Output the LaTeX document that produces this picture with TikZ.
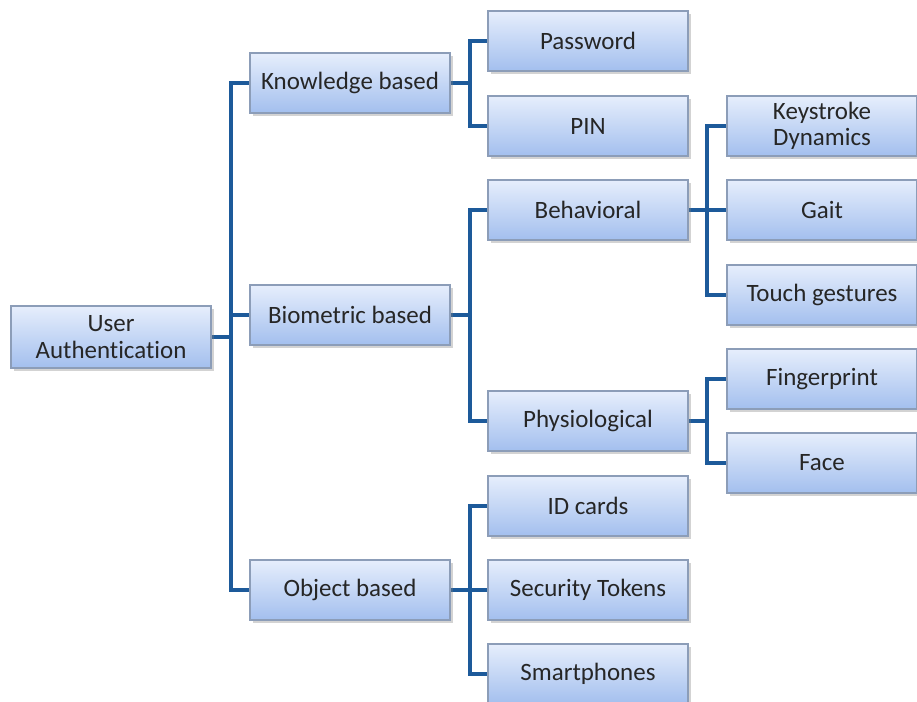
\documentclass[tikz,border=0pt]{standalone}
\usepackage{fontspec}
\setmainfont[Ligatures=NoCommon]{Carlito}
\usetikzlibrary{shadows}
\pgfdeclarelayer{bg}
\pgfsetlayers{bg,main}
\definecolor{linkblue}{HTML}{1D5A9A}
\definecolor{boxtop}{HTML}{E6EEFC}
\definecolor{boxbot}{HTML}{A3BFEE}
\definecolor{boxrim}{HTML}{8C9DB8}
\tikzset{
    box/.style={draw=boxrim, line width=0.6pt, top color=boxtop, bottom color=boxbot,
        minimum width=4cm, minimum height=1.2cm, align=center, inner sep=1pt,
        font=\fontsize{14.2}{15}\selectfont, text=black!85,
        drop shadow={shadow xshift=0.06cm, shadow yshift=-0.06cm, opacity=0.35}},
    leaf/.style={box, minimum width=3.8cm},
    link/.style={draw=linkblue, line width=2.8pt}
}
\begin{document}
\begin{tikzpicture}
    \useasboundingbox (0,0) rectangle (18.34,-14.04);
    \node (root) [box, minimum height=1.24cm] at (2.22, -6.74) {User\\Authentication};

    \node (know) [box] at (7.0, -1.66) {Knowledge based};
    \node (bio) [box] at (7.0, -6.3) {Biometric based};
    \node (obj) [box] at (7.0, -11.8) {Object based};

    \node (pass) [box] at (11.76, -0.82) {Password};
    \node (pin) [box] at (11.76, -2.52) {PIN};
    \node (behav) [box] at (11.76, -4.2) {Behavioral};
    \node (phys) [box] at (11.76, -8.42) {Physiological};
    \node (idc) [box] at (11.76, -10.12) {ID cards};
    \node (tok) [box] at (11.76, -11.8) {Security Tokens};
    \node (smart) [box] at (11.76, -13.48) {Smartphones};

    \node (key) [leaf] at (16.44, -2.52) {Keystroke\\Dynamics};
    \node (gait) [leaf] at (16.44, -4.2) {Gait};
    \node (touch) [leaf] at (16.44, -5.9) {Touch gestures};
    \node (finger) [leaf] at (16.44, -7.58) {Fingerprint};
    \node (face) [leaf] at (16.44, -9.26) {Face};

    % junctions on the trunks
    \coordinate (j1) at (4.62, -6.74);
    \coordinate (j2) at (9.4, -1.66);
    \coordinate (j3) at (9.4, -6.3);
    \coordinate (j4) at (9.4, -11.8);
    \coordinate (j5) at (14.14, -4.2);
    \coordinate (j6) at (14.14, -8.42);

    \begin{pgfonlayer}{bg}
        \draw[link] (root.east) -- (j1);
        \draw[link] (know.west) -| (j1) |- (obj.west);
        \draw[link] (bio.west) -- (bio.west -| j1);

        \draw[link] (know.east) -- (j2);
        \draw[link] (pass.west) -| (j2) |- (pin.west);

        \draw[link] (bio.east) -- (j3);
        \draw[link] (behav.west) -| (j3) |- (phys.west);

        \draw[link] (obj.east) -- (j4);
        \draw[link] (idc.west) -| (j4) |- (smart.west);
        \draw[link] (tok.west) -- (j4);

        \draw[link] (behav.east) -- (j5);
        \draw[link] (key.west) -| (j5) |- (touch.west);
        \draw[link] (gait.west) -- (j5);

        \draw[link] (phys.east) -- (j6);
        \draw[link] (finger.west) -| (j6) |- (face.west);
    \end{pgfonlayer}
\end{tikzpicture}
\end{document}
